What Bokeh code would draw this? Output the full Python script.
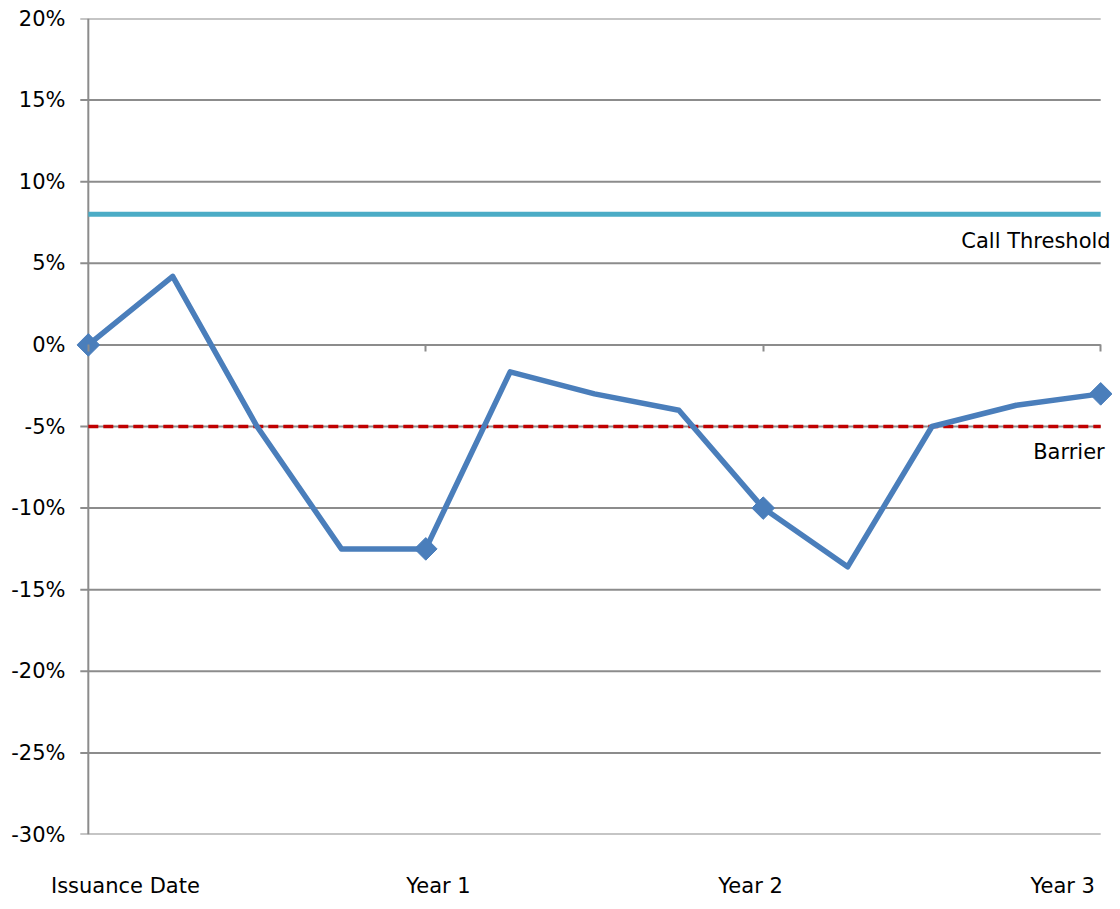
import math
from bokeh.plotting import figure
from bokeh.models import (FixedTicker, LinearAxis, Label, Range1d,
                          PrintfTickFormatter)
from bokeh.embed import file_html
from bokeh.resources import INLINE

# ---- data ----
quarters = [0, 1, 2, 3, 4, 5, 6, 7, 8, 9, 10, 11, 12]
performance = [0.0, 4.2, -5.0, -12.5, -12.5, -1.65, -3.0, -4.0, -10.0, -13.6, -5.0, -3.7, -3.0]
marker_quarters = [0, 4, 8, 12]
marker_values = [0.0, -12.5, -10.0, -3.0]
call_threshold = 8.0
barrier = -5.0
year_ticks = [0, 4, 8, 12]
year_labels = ["Issuance Date", "Year 1", "Year 2", "Year 3"]
label_positions = [0.44, 4.15, 7.85, 11.55]
y_ticks = [-30, -25, -20, -15, -10, -5, 0, 5, 10, 15, 20]
x_start, x_end = 0, 12

FONT = "DejaVu Sans"
FS = "21px"
GRID = "#8c8c8c"
PAD = 0.14       # range padding (in quarters) so edge markers are not clipped
TICK_OUT = 0.095  # y tick marks drawn as the grid lines' left overhang

p = figure(width=1112, height=900, output_backend="svg", toolbar_location=None,
           x_range=Range1d(x_start - PAD, x_end + PAD), y_range=Range1d(-30, 20),
           x_axis_location=None, y_axis_location=None,
           min_border_left=76, min_border_right=0, min_border_top=18, min_border_bottom=64)
p.outline_line_color = None
p.background_fill_color = "white"
p.border_fill_color = "white"
p.xgrid.grid_line_color = None
p.ygrid.grid_line_color = None

# y axis: labels only (line and ticks drawn in the frame)
yax = LinearAxis(ticker=FixedTicker(ticks=y_ticks),
                 formatter=PrintfTickFormatter(format="%d%%"))
yax.axis_line_color = None
yax.major_tick_line_color = None
yax.major_tick_out = 0
yax.major_tick_in = 0
yax.minor_tick_line_color = None
yax.major_label_standoff = 11
yax.major_label_text_font = FONT
yax.major_label_text_font_size = FS
yax.major_label_text_color = "black"
p.add_layout(yax, "left")

# x axis crossing at zero (ticks only; its line is the zero grid line)
xax0 = LinearAxis(ticker=FixedTicker(ticks=year_ticks), fixed_location=0)
xax0.axis_line_color = None
xax0.major_tick_line_color = GRID
xax0.major_tick_line_width = 2
xax0.major_tick_out = 7
xax0.major_tick_in = 0
xax0.minor_tick_line_color = None
xax0.major_label_text_color = None
xax0.major_label_text_font_size = "1px"
p.add_layout(xax0, "below")

# category labels at the bottom
xlab = LinearAxis(ticker=FixedTicker(ticks=label_positions),
                  major_label_overrides={pos: lab for pos, lab in zip(label_positions, year_labels)})
xlab.axis_line_color = None
xlab.major_tick_line_color = None
xlab.minor_tick_line_color = None
xlab.major_label_standoff = 33
xlab.major_label_text_font = FONT
xlab.major_label_text_font_size = FS
xlab.major_label_text_color = "black"
p.add_layout(xlab, "below")

# horizontal grid lines (with tick overhang) and vertical axis line
p.segment(x0=[x_start - TICK_OUT] * len(y_ticks), x1=[x_end] * len(y_ticks),
          y0=y_ticks, y1=y_ticks, line_color=GRID, line_width=2)
p.segment(x0=[x_start], x1=[x_start], y0=[y_ticks[0]], y1=[y_ticks[-1]],
          line_color=GRID, line_width=2)

# threshold and barrier lines
p.segment(x0=[x_start], x1=[x_end], y0=[call_threshold], y1=[call_threshold],
          line_color="#4BACC6", line_width=5)
p.segment(x0=[x_start], x1=[x_end], y0=[barrier], y1=[barrier],
          line_color="#C00000", line_width=3.5, line_dash="10 5")

# performance line
p.line(quarters, performance, line_color="#4A7EBB", line_width=5.5, line_join="round")
p.scatter(marker_quarters, marker_values, marker="square", size=16, angle=math.pi / 4,
          fill_color="#4A7EBB", line_color="#4A7EBB")

p.add_layout(Label(x=x_end, y=call_threshold, x_offset=10, y_offset=-15,
                   text="Call Threshold", text_align="right", text_baseline="top",
                   text_font=FONT, text_font_size=FS, text_color="black"))
p.add_layout(Label(x=x_end, y=barrier, x_offset=4, y_offset=-13,
                   text="Barrier", text_align="right", text_baseline="top",
                   text_font=FONT, text_font_size=FS, text_color="black"))

open("out.html", "w").write(file_html(p, INLINE))
